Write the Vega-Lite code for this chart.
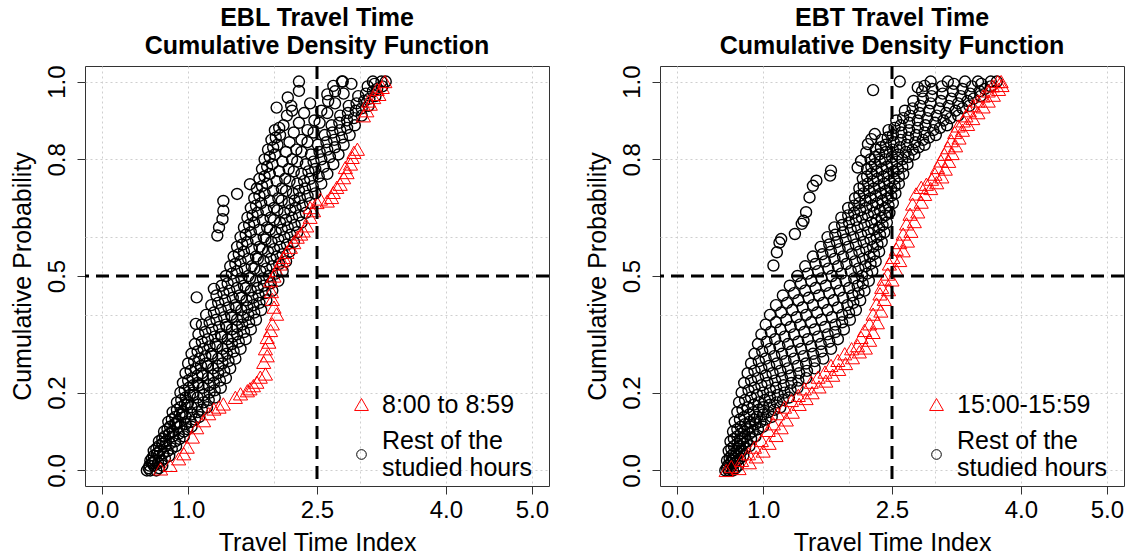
{
"$schema": "https://vega.github.io/schema/vega-lite/v6.json",
"background": "white",
"padding": {"left": 9, "top": 5, "right": 5, "bottom": 5},
"spacing": 111,
"bounds": "flush",
"config": {
  "view": {"stroke": "#333333", "strokeWidth": 1},
  "font": "Liberation Sans",
  "title": {"fontSize": 25, "fontWeight": "bold", "font": "Liberation Sans", "color": "#000000", "lineHeight": 28, "offset": 6, "anchor": "middle"},
  "axis": {"labelFont": "Liberation Sans", "titleFont": "Liberation Sans", "labelFontSize": 24, "titleFontSize": 25, "titleFontWeight": "normal", "labelColor": "#000000", "titleColor": "#000000", "tickColor": "#333333", "tickSize": 8, "domain": false, "gridColor": "#cfcfcf", "gridDash": [2, 3], "gridWidth": 1},
  "legend": {"labelFont": "Liberation Sans", "labelFontSize": 25, "labelColor": "#000000", "labelLimit": 400, "symbolStrokeWidth": 1}
},
"datasets": {
"ebl_rest": [
{"x":0.52,"y":0},{"x":0.56,"y":0.025},{"x":0.6,"y":0.05},{"x":0.66,"y":0.075},{"x":0.72,"y":0.1},{"x":0.77,"y":0.125},{"x":0.82,"y":0.15},{"x":0.87,"y":0.175},{"x":0.91,"y":0.2},{"x":0.94,"y":0.225},{"x":0.97,"y":0.25},{"x":1.0,"y":0.275},{"x":1.04,"y":0.3},{"x":1.08,"y":0.325},{"x":1.12,"y":0.35},{"x":1.16,"y":0.375},{"x":1.21,"y":0.4},{"x":1.27,"y":0.425},{"x":1.33,"y":0.45},{"x":1.39,"y":0.475},{"x":1.44,"y":0.5},{"x":1.49,"y":0.525},{"x":1.53,"y":0.55},{"x":1.57,"y":0.575},{"x":1.61,"y":0.6},{"x":1.65,"y":0.625},{"x":1.69,"y":0.65},{"x":1.73,"y":0.675},{"x":1.77,"y":0.7},{"x":1.8,"y":0.725},{"x":1.83,"y":0.75},{"x":1.86,"y":0.775},{"x":1.89,"y":0.8},{"x":1.93,"y":0.825},{"x":1.97,"y":0.85},{"x":2.01,"y":0.875},
{"x":0.55,"y":0.0125},{"x":0.6,"y":0.0375},{"x":0.66,"y":0.0625},{"x":0.73,"y":0.0875},{"x":0.79,"y":0.1125},{"x":0.85,"y":0.1375},{"x":0.91,"y":0.1625},{"x":0.97,"y":0.1875},{"x":1.01,"y":0.2125},{"x":1.05,"y":0.2375},{"x":1.09,"y":0.2625},{"x":1.13,"y":0.2875},{"x":1.18,"y":0.3125},{"x":1.23,"y":0.3375},{"x":1.28,"y":0.3625},{"x":1.33,"y":0.3875},{"x":1.38,"y":0.4125},{"x":1.43,"y":0.4375},{"x":1.48,"y":0.4625},{"x":1.53,"y":0.4875},{"x":1.57,"y":0.5125},{"x":1.61,"y":0.5375},{"x":1.65,"y":0.5625},{"x":1.69,"y":0.5875},{"x":1.73,"y":0.6125},{"x":1.77,"y":0.6375},{"x":1.81,"y":0.6625},{"x":1.85,"y":0.6875},{"x":1.89,"y":0.7125},{"x":1.92,"y":0.7375},{"x":1.95,"y":0.7625},{"x":1.98,"y":0.7875},{"x":2.01,"y":0.8125},{"x":2.04,"y":0.8375},{"x":2.07,"y":0.8625},{"x":2.11,"y":0.8875},{"x":2.15,"y":0.9125},{"x":2.2,"y":0.9375},
{"x":0.56,"y":0},{"x":0.61,"y":0.025},{"x":0.67,"y":0.05},{"x":0.74,"y":0.075},{"x":0.82,"y":0.1},{"x":0.88,"y":0.125},{"x":0.94,"y":0.15},{"x":1.0,"y":0.175},{"x":1.06,"y":0.2},{"x":1.11,"y":0.225},{"x":1.16,"y":0.25},{"x":1.21,"y":0.275},{"x":1.27,"y":0.3},{"x":1.32,"y":0.325},{"x":1.38,"y":0.35},{"x":1.44,"y":0.375},{"x":1.5,"y":0.4},{"x":1.55,"y":0.425},{"x":1.6,"y":0.45},{"x":1.65,"y":0.475},{"x":1.7,"y":0.5},{"x":1.74,"y":0.525},{"x":1.79,"y":0.55},{"x":1.83,"y":0.575},{"x":1.88,"y":0.6},{"x":1.92,"y":0.625},{"x":1.96,"y":0.65},{"x":2.0,"y":0.675},{"x":2.05,"y":0.7},{"x":2.09,"y":0.725},{"x":2.13,"y":0.75},{"x":2.17,"y":0.775},{"x":2.21,"y":0.8},{"x":2.26,"y":0.825},{"x":2.32,"y":0.85},{"x":2.39,"y":0.875},{"x":2.47,"y":0.9},{"x":2.55,"y":0.925},{"x":2.63,"y":0.95},{"x":2.71,"y":0.975},{"x":2.8,"y":1},
{"x":0.6,"y":0.0125},{"x":0.66,"y":0.0375},{"x":0.73,"y":0.0625},{"x":0.82,"y":0.0875},{"x":0.9,"y":0.1125},{"x":0.97,"y":0.1375},{"x":1.04,"y":0.1625},{"x":1.11,"y":0.1875},{"x":1.17,"y":0.2125},{"x":1.23,"y":0.2375},{"x":1.29,"y":0.2625},{"x":1.35,"y":0.2875},{"x":1.4,"y":0.3125},{"x":1.46,"y":0.3375},{"x":1.51,"y":0.3625},{"x":1.57,"y":0.3875},{"x":1.62,"y":0.4125},{"x":1.68,"y":0.4375},{"x":1.73,"y":0.4625},{"x":1.79,"y":0.4875},{"x":1.84,"y":0.5125},{"x":1.88,"y":0.5375},{"x":1.93,"y":0.5625},{"x":1.97,"y":0.5875},{"x":2.02,"y":0.6125},{"x":2.07,"y":0.6375},{"x":2.12,"y":0.6625},{"x":2.17,"y":0.6875},{"x":2.22,"y":0.7125},{"x":2.27,"y":0.7375},{"x":2.32,"y":0.7625},{"x":2.37,"y":0.7875},{"x":2.43,"y":0.8125},{"x":2.51,"y":0.8375},{"x":2.59,"y":0.8625},{"x":2.67,"y":0.8875},{"x":2.77,"y":0.9125},{"x":2.87,"y":0.9375},{"x":2.98,"y":0.9625},{"x":3.09,"y":0.9875},{"x":3.15,"y":1},
{"x":0.63,"y":0},{"x":0.69,"y":0.025},{"x":0.76,"y":0.05},{"x":0.85,"y":0.075},{"x":0.95,"y":0.1},{"x":1.03,"y":0.125},{"x":1.11,"y":0.15},{"x":1.18,"y":0.175},{"x":1.25,"y":0.2},{"x":1.3,"y":0.225},{"x":1.35,"y":0.25},{"x":1.4,"y":0.275},{"x":1.45,"y":0.3},{"x":1.51,"y":0.325},{"x":1.57,"y":0.35},{"x":1.63,"y":0.375},{"x":1.7,"y":0.4},{"x":1.76,"y":0.425},{"x":1.82,"y":0.45},{"x":1.88,"y":0.475},{"x":1.94,"y":0.5},{"x":1.98,"y":0.525},{"x":2.03,"y":0.55},{"x":2.07,"y":0.575},{"x":2.12,"y":0.6},{"x":2.16,"y":0.625},{"x":2.21,"y":0.65},{"x":2.25,"y":0.675},{"x":2.3,"y":0.7},{"x":2.36,"y":0.725},{"x":2.42,"y":0.75},{"x":2.48,"y":0.775},{"x":2.55,"y":0.8},{"x":2.62,"y":0.825},{"x":2.7,"y":0.85},{"x":2.77,"y":0.875},{"x":2.85,"y":0.9},{"x":2.95,"y":0.925},{"x":3.05,"y":0.95},{"x":3.15,"y":0.975},{"x":3.25,"y":1},
{"x":0.7,"y":0.0125},{"x":0.78,"y":0.0375},{"x":0.86,"y":0.0625},{"x":0.95,"y":0.0875},{"x":1.04,"y":0.1125},{"x":1.13,"y":0.1375},{"x":1.22,"y":0.1625},{"x":1.31,"y":0.1875},{"x":1.38,"y":0.2125},{"x":1.44,"y":0.2375},{"x":1.49,"y":0.2625},{"x":1.55,"y":0.2875},{"x":1.61,"y":0.3125},{"x":1.67,"y":0.3375},{"x":1.73,"y":0.3625},{"x":1.79,"y":0.3875},{"x":1.85,"y":0.4125},{"x":1.91,"y":0.4375},{"x":1.98,"y":0.4625},{"x":2.05,"y":0.4875},{"x":2.1,"y":0.5125},{"x":2.14,"y":0.5375},{"x":2.18,"y":0.5625},{"x":2.23,"y":0.5875},{"x":2.27,"y":0.6125},{"x":2.32,"y":0.6375},{"x":2.37,"y":0.6625},{"x":2.42,"y":0.6875},{"x":2.48,"y":0.7125},{"x":2.55,"y":0.7375},{"x":2.62,"y":0.7625},{"x":2.69,"y":0.7875},{"x":2.75,"y":0.8125},{"x":2.81,"y":0.8375},{"x":2.88,"y":0.8625},{"x":2.94,"y":0.8875},{"x":3.02,"y":0.9125},{"x":3.1,"y":0.9375},{"x":3.18,"y":0.9625},{"x":3.26,"y":0.9875},{"x":3.3,"y":1},
{"x":0.54,"y":0.006},{"x":0.58,"y":0.031},{"x":0.63,"y":0.056},{"x":0.7,"y":0.081},{"x":0.76,"y":0.106},{"x":0.81,"y":0.131},{"x":0.87,"y":0.156},{"x":0.92,"y":0.181},{"x":0.96,"y":0.206},{"x":1.0,"y":0.231},{"x":1.03,"y":0.256},{"x":1.07,"y":0.281},{"x":1.11,"y":0.306},{"x":1.16,"y":0.331},{"x":1.2,"y":0.356},{"x":1.25,"y":0.381},{"x":1.3,"y":0.406},{"x":1.35,"y":0.431},{"x":1.41,"y":0.456},{"x":1.46,"y":0.481},{"x":1.51,"y":0.506},{"x":1.55,"y":0.531},{"x":1.59,"y":0.556},{"x":1.63,"y":0.581},{"x":1.67,"y":0.606},{"x":1.71,"y":0.631},{"x":1.75,"y":0.656},{"x":1.79,"y":0.681},{"x":1.83,"y":0.706},{"x":1.86,"y":0.731},{"x":1.89,"y":0.756},{"x":1.92,"y":0.781},{"x":1.95,"y":0.806},{"x":1.99,"y":0.831},{"x":2.02,"y":0.856},{"x":2.06,"y":0.881},
{"x":0.58,"y":0.019},{"x":0.64,"y":0.044},{"x":0.7,"y":0.069},{"x":0.78,"y":0.094},{"x":0.84,"y":0.119},{"x":0.9,"y":0.144},{"x":0.96,"y":0.169},{"x":1.02,"y":0.194},{"x":1.06,"y":0.219},{"x":1.11,"y":0.244},{"x":1.15,"y":0.269},{"x":1.2,"y":0.294},{"x":1.25,"y":0.319},{"x":1.31,"y":0.344},{"x":1.36,"y":0.369},{"x":1.42,"y":0.394},{"x":1.47,"y":0.419},{"x":1.52,"y":0.444},{"x":1.57,"y":0.469},{"x":1.62,"y":0.494},{"x":1.66,"y":0.519},{"x":1.7,"y":0.544},{"x":1.74,"y":0.569},{"x":1.79,"y":0.594},{"x":1.83,"y":0.619},{"x":1.87,"y":0.644},{"x":1.91,"y":0.669},{"x":1.95,"y":0.694},{"x":1.99,"y":0.719},{"x":2.03,"y":0.744},{"x":2.06,"y":0.769},{"x":2.1,"y":0.794},{"x":2.14,"y":0.819},{"x":2.18,"y":0.844},{"x":2.23,"y":0.869},{"x":2.29,"y":0.894},{"x":2.35,"y":0.919},{"x":2.42,"y":0.944},
{"x":0.59,"y":0.019},{"x":0.64,"y":0.044},{"x":0.7,"y":0.069},{"x":0.78,"y":0.094},{"x":0.86,"y":0.119},{"x":0.93,"y":0.144},{"x":0.99,"y":0.169},{"x":1.06,"y":0.194},{"x":1.12,"y":0.219},{"x":1.17,"y":0.244},{"x":1.23,"y":0.269},{"x":1.28,"y":0.294},{"x":1.34,"y":0.319},{"x":1.39,"y":0.344},{"x":1.45,"y":0.369},{"x":1.51,"y":0.394},{"x":1.56,"y":0.419},{"x":1.62,"y":0.444},{"x":1.67,"y":0.469},{"x":1.72,"y":0.494},{"x":1.77,"y":0.519},{"x":1.81,"y":0.544},{"x":1.86,"y":0.569},{"x":1.9,"y":0.594},{"x":1.95,"y":0.619},{"x":2.0,"y":0.644},{"x":2.04,"y":0.669},{"x":2.09,"y":0.694},{"x":2.14,"y":0.719},{"x":2.18,"y":0.744},{"x":2.23,"y":0.769},{"x":2.27,"y":0.794},{"x":2.32,"y":0.819},{"x":2.39,"y":0.844},{"x":2.46,"y":0.869},{"x":2.53,"y":0.894},{"x":2.62,"y":0.919},{"x":2.71,"y":0.944},{"x":2.81,"y":0.969},{"x":2.9,"y":0.994},
{"x":0.65,"y":0.019},{"x":0.71,"y":0.044},{"x":0.79,"y":0.069},{"x":0.89,"y":0.094},{"x":0.97,"y":0.119},{"x":1.04,"y":0.144},{"x":1.11,"y":0.169},{"x":1.18,"y":0.194},{"x":1.24,"y":0.219},{"x":1.29,"y":0.244},{"x":1.35,"y":0.269},{"x":1.4,"y":0.294},{"x":1.46,"y":0.319},{"x":1.52,"y":0.344},{"x":1.57,"y":0.369},{"x":1.64,"y":0.394},{"x":1.69,"y":0.419},{"x":1.75,"y":0.444},{"x":1.81,"y":0.469},{"x":1.87,"y":0.494},{"x":1.91,"y":0.519},{"x":1.96,"y":0.544},{"x":2.0,"y":0.569},{"x":2.05,"y":0.594},{"x":2.09,"y":0.619},{"x":2.14,"y":0.644},{"x":2.19,"y":0.669},{"x":2.24,"y":0.694},{"x":2.29,"y":0.719},{"x":2.35,"y":0.744},{"x":2.4,"y":0.769},{"x":2.46,"y":0.794},{"x":2.53,"y":0.819},{"x":2.61,"y":0.844},{"x":2.68,"y":0.869},{"x":2.76,"y":0.894},{"x":2.86,"y":0.919},{"x":2.96,"y":0.944},{"x":3.07,"y":0.969},{"x":3.17,"y":0.994},
{"x":0.66,"y":0.006},{"x":0.73,"y":0.031},{"x":0.81,"y":0.056},{"x":0.9,"y":0.081},{"x":0.99,"y":0.106},{"x":1.08,"y":0.131},{"x":1.16,"y":0.156},{"x":1.24,"y":0.181},{"x":1.31,"y":0.206},{"x":1.37,"y":0.231},{"x":1.42,"y":0.256},{"x":1.47,"y":0.281},{"x":1.53,"y":0.306},{"x":1.59,"y":0.331},{"x":1.65,"y":0.356},{"x":1.71,"y":0.381},{"x":1.77,"y":0.406},{"x":1.83,"y":0.431},{"x":1.9,"y":0.456},{"x":1.96,"y":0.481},{"x":2.02,"y":0.506},{"x":2.06,"y":0.531},{"x":2.1,"y":0.556},{"x":2.15,"y":0.581},{"x":2.19,"y":0.606},{"x":2.24,"y":0.631},{"x":2.29,"y":0.656},{"x":2.33,"y":0.681},{"x":2.39,"y":0.706},{"x":2.45,"y":0.731},{"x":2.52,"y":0.756},{"x":2.58,"y":0.781},{"x":2.65,"y":0.806},{"x":2.71,"y":0.831},{"x":2.79,"y":0.856},{"x":2.85,"y":0.881},{"x":2.93,"y":0.906},{"x":3.02,"y":0.931},{"x":3.11,"y":0.956},{"x":3.2,"y":0.981},
{"x":1.09,"y":0.377},{"x":1.1,"y":0.445},{"x":1.3,"y":0.467},{"x":1.34,"y":0.604},{"x":1.36,"y":0.625},{"x":1.4,"y":0.646},{"x":1.41,"y":0.668},{"x":1.41,"y":0.693},{"x":1.57,"y":0.711},{"x":1.72,"y":0.736},{"x":2.03,"y":0.933},{"x":2.21,"y":0.925},{"x":2.16,"y":0.959},{"x":2.29,"y":0.976},{"x":2.29,"y":1},{"x":2.62,"y":0.967},{"x":2.69,"y":0.989},{"x":2.79,"y":1}
],
"ebl_peak": [
{"x":0.68,"y":0.004},{"x":0.79,"y":0.013},{"x":0.89,"y":0.03},{"x":0.95,"y":0.043},{"x":0.99,"y":0.06},{"x":1.05,"y":0.086},{"x":1.1,"y":0.11},{"x":1.18,"y":0.128},{"x":1.24,"y":0.146},{"x":1.3,"y":0.158},{"x":1.36,"y":0.163},{"x":1.41,"y":0.171},{"x":1.55,"y":0.188},{"x":1.61,"y":0.197},{"x":1.69,"y":0.205},{"x":1.72,"y":0.21},{"x":1.76,"y":0.218},{"x":1.8,"y":0.227},{"x":1.84,"y":0.24},{"x":1.9,"y":0.248},{"x":1.88,"y":0.278},{"x":1.92,"y":0.295},{"x":1.9,"y":0.313},{"x":1.94,"y":0.33},{"x":1.92,"y":0.342},{"x":1.96,"y":0.36},{"x":1.98,"y":0.377},{"x":2.03,"y":0.402},{"x":2.0,"y":0.42},{"x":1.98,"y":0.44},{"x":1.97,"y":0.46},{"x":1.96,"y":0.488},{"x":2.0,"y":0.5},{"x":2.03,"y":0.514},{"x":2.07,"y":0.531},{"x":2.09,"y":0.539},{"x":2.11,"y":0.548},{"x":2.15,"y":0.561},{"x":2.19,"y":0.574},{"x":2.23,"y":0.586},{"x":2.27,"y":0.6},{"x":2.31,"y":0.608},{"x":2.34,"y":0.616},{"x":2.38,"y":0.629},{"x":2.42,"y":0.651},{"x":2.46,"y":0.668},{"x":2.42,"y":0.676},{"x":2.5,"y":0.689},{"x":2.54,"y":0.698},{"x":2.62,"y":0.693},{"x":2.67,"y":0.702},{"x":2.69,"y":0.715},{"x":2.73,"y":0.728},{"x":2.77,"y":0.736},{"x":2.81,"y":0.753},{"x":2.85,"y":0.766},{"x":2.83,"y":0.779},{"x":2.89,"y":0.788},{"x":2.91,"y":0.805},{"x":2.93,"y":0.818},{"x":2.97,"y":0.826},{"x":3.04,"y":0.912},{"x":3.08,"y":0.925},{"x":3.12,"y":0.942},{"x":3.1,"y":0.95},{"x":3.16,"y":0.959},{"x":3.22,"y":0.967},{"x":3.2,"y":0.98},{"x":3.26,"y":0.985},{"x":3.29,"y":1}
],
"ebt_rest": [
{"x":0.56,"y":0},{"x":0.58,"y":0.025},{"x":0.6,"y":0.05},{"x":0.62,"y":0.075},{"x":0.65,"y":0.1},{"x":0.67,"y":0.125},{"x":0.7,"y":0.15},{"x":0.72,"y":0.175},{"x":0.75,"y":0.2},{"x":0.78,"y":0.225},{"x":0.82,"y":0.25},{"x":0.86,"y":0.275},{"x":0.9,"y":0.3},{"x":0.94,"y":0.325},{"x":0.98,"y":0.35},{"x":1.03,"y":0.375},{"x":1.08,"y":0.4},{"x":1.15,"y":0.425},{"x":1.23,"y":0.45},{"x":1.31,"y":0.475},{"x":1.4,"y":0.5},{"x":1.49,"y":0.525},{"x":1.58,"y":0.55},{"x":1.67,"y":0.575},{"x":1.75,"y":0.6},{"x":1.83,"y":0.625},{"x":1.91,"y":0.65},{"x":1.99,"y":0.675},{"x":2.07,"y":0.7},{"x":2.12,"y":0.725},{"x":2.16,"y":0.75},{"x":2.21,"y":0.775},{"x":2.25,"y":0.8},{"x":2.31,"y":0.825},{"x":2.38,"y":0.85},{"x":2.46,"y":0.875},{"x":2.55,"y":0.9},{"x":2.65,"y":0.925},{"x":2.75,"y":0.95},{"x":2.85,"y":0.975},{"x":2.95,"y":1},
{"x":0.59,"y":0.0125},{"x":0.63,"y":0.0375},{"x":0.66,"y":0.0625},{"x":0.7,"y":0.0875},{"x":0.74,"y":0.1125},{"x":0.78,"y":0.1375},{"x":0.82,"y":0.1625},{"x":0.86,"y":0.1875},{"x":0.9,"y":0.2125},{"x":0.94,"y":0.2375},{"x":0.98,"y":0.2625},{"x":1.03,"y":0.2875},{"x":1.08,"y":0.3125},{"x":1.14,"y":0.3375},{"x":1.2,"y":0.3625},{"x":1.27,"y":0.3875},{"x":1.34,"y":0.4125},{"x":1.41,"y":0.4375},{"x":1.49,"y":0.4625},{"x":1.56,"y":0.4875},{"x":1.64,"y":0.5125},{"x":1.72,"y":0.5375},{"x":1.79,"y":0.5625},{"x":1.86,"y":0.5875},{"x":1.93,"y":0.6125},{"x":2.0,"y":0.6375},{"x":2.06,"y":0.6625},{"x":2.12,"y":0.6875},{"x":2.17,"y":0.7125},{"x":2.22,"y":0.7375},{"x":2.26,"y":0.7625},{"x":2.3,"y":0.7875},{"x":2.35,"y":0.8125},{"x":2.43,"y":0.8375},{"x":2.51,"y":0.8625},{"x":2.6,"y":0.8875},{"x":2.71,"y":0.9125},{"x":2.83,"y":0.9375},{"x":2.96,"y":0.9625},{"x":3.08,"y":0.9875},{"x":3.15,"y":1},
{"x":0.6,"y":0},{"x":0.64,"y":0.025},{"x":0.69,"y":0.05},{"x":0.73,"y":0.075},{"x":0.78,"y":0.1},{"x":0.84,"y":0.125},{"x":0.89,"y":0.15},{"x":0.95,"y":0.175},{"x":1.0,"y":0.2},{"x":1.05,"y":0.225},{"x":1.11,"y":0.25},{"x":1.16,"y":0.275},{"x":1.22,"y":0.3},{"x":1.29,"y":0.325},{"x":1.36,"y":0.35},{"x":1.43,"y":0.375},{"x":1.5,"y":0.4},{"x":1.58,"y":0.425},{"x":1.65,"y":0.45},{"x":1.73,"y":0.475},{"x":1.8,"y":0.5},{"x":1.87,"y":0.525},{"x":1.93,"y":0.55},{"x":1.99,"y":0.575},{"x":2.05,"y":0.6},{"x":2.1,"y":0.625},{"x":2.15,"y":0.65},{"x":2.2,"y":0.675},{"x":2.25,"y":0.7},{"x":2.29,"y":0.725},{"x":2.33,"y":0.75},{"x":2.38,"y":0.775},{"x":2.42,"y":0.8},{"x":2.51,"y":0.825},{"x":2.6,"y":0.85},{"x":2.7,"y":0.875},{"x":2.8,"y":0.9},{"x":2.93,"y":0.925},{"x":3.07,"y":0.95},{"x":3.21,"y":0.975},{"x":3.35,"y":1},
{"x":0.64,"y":0.0125},{"x":0.68,"y":0.0375},{"x":0.73,"y":0.0625},{"x":0.79,"y":0.0875},{"x":0.85,"y":0.1125},{"x":0.93,"y":0.1375},{"x":1.0,"y":0.1625},{"x":1.08,"y":0.1875},{"x":1.15,"y":0.2125},{"x":1.22,"y":0.2375},{"x":1.29,"y":0.2625},{"x":1.36,"y":0.2875},{"x":1.44,"y":0.3125},{"x":1.52,"y":0.3375},{"x":1.6,"y":0.3625},{"x":1.68,"y":0.3875},{"x":1.75,"y":0.4125},{"x":1.82,"y":0.4375},{"x":1.89,"y":0.4625},{"x":1.96,"y":0.4875},{"x":2.02,"y":0.5125},{"x":2.07,"y":0.5375},{"x":2.12,"y":0.5625},{"x":2.17,"y":0.5875},{"x":2.22,"y":0.6125},{"x":2.26,"y":0.6375},{"x":2.29,"y":0.6625},{"x":2.33,"y":0.6875},{"x":2.37,"y":0.7125},{"x":2.41,"y":0.7375},{"x":2.46,"y":0.7625},{"x":2.5,"y":0.7875},{"x":2.57,"y":0.8125},{"x":2.67,"y":0.8375},{"x":2.78,"y":0.8625},{"x":2.89,"y":0.8875},{"x":3.02,"y":0.9125},{"x":3.16,"y":0.9375},{"x":3.3,"y":0.9625},{"x":3.43,"y":0.9875},{"x":3.5,"y":1},
{"x":0.65,"y":0},{"x":0.7,"y":0.025},{"x":0.75,"y":0.05},{"x":0.81,"y":0.075},{"x":0.88,"y":0.1},{"x":0.97,"y":0.125},{"x":1.06,"y":0.15},{"x":1.16,"y":0.175},{"x":1.25,"y":0.2},{"x":1.33,"y":0.225},{"x":1.42,"y":0.25},{"x":1.5,"y":0.275},{"x":1.58,"y":0.3},{"x":1.67,"y":0.325},{"x":1.75,"y":0.35},{"x":1.84,"y":0.375},{"x":1.92,"y":0.4},{"x":1.98,"y":0.425},{"x":2.04,"y":0.45},{"x":2.1,"y":0.475},{"x":2.15,"y":0.5},{"x":2.19,"y":0.525},{"x":2.24,"y":0.55},{"x":2.28,"y":0.575},{"x":2.32,"y":0.6},{"x":2.35,"y":0.625},{"x":2.38,"y":0.65},{"x":2.42,"y":0.675},{"x":2.45,"y":0.7},{"x":2.49,"y":0.725},{"x":2.53,"y":0.75},{"x":2.57,"y":0.775},{"x":2.62,"y":0.8},{"x":2.74,"y":0.825},{"x":2.86,"y":0.85},{"x":2.98,"y":0.875},{"x":3.1,"y":0.9},{"x":3.24,"y":0.925},{"x":3.38,"y":0.95},{"x":3.52,"y":0.975},{"x":3.65,"y":1},
{"x":0.71,"y":0.0125},{"x":0.77,"y":0.0375},{"x":0.84,"y":0.0625},{"x":0.91,"y":0.0875},{"x":1.0,"y":0.1125},{"x":1.1,"y":0.1375},{"x":1.2,"y":0.1625},{"x":1.3,"y":0.1875},{"x":1.4,"y":0.2125},{"x":1.5,"y":0.2375},{"x":1.6,"y":0.2625},{"x":1.7,"y":0.2875},{"x":1.79,"y":0.3125},{"x":1.87,"y":0.3375},{"x":1.94,"y":0.3625},{"x":2.01,"y":0.3875},{"x":2.08,"y":0.4125},{"x":2.13,"y":0.4375},{"x":2.18,"y":0.4625},{"x":2.23,"y":0.4875},{"x":2.27,"y":0.5125},{"x":2.31,"y":0.5375},{"x":2.35,"y":0.5625},{"x":2.38,"y":0.5875},{"x":2.41,"y":0.6125},{"x":2.44,"y":0.6375},{"x":2.47,"y":0.6625},{"x":2.51,"y":0.6875},{"x":2.54,"y":0.7125},{"x":2.58,"y":0.7375},{"x":2.63,"y":0.7625},{"x":2.68,"y":0.7875},{"x":2.76,"y":0.8125},{"x":2.88,"y":0.8375},{"x":3.01,"y":0.8625},{"x":3.14,"y":0.8875},{"x":3.27,"y":0.9125},{"x":3.4,"y":0.9375},{"x":3.53,"y":0.9625},{"x":3.65,"y":0.9875},{"x":3.72,"y":1},
{"x":0.58,"y":0.006},{"x":0.61,"y":0.031},{"x":0.63,"y":0.056},{"x":0.66,"y":0.081},{"x":0.7,"y":0.106},{"x":0.73,"y":0.131},{"x":0.76,"y":0.156},{"x":0.79,"y":0.181},{"x":0.83,"y":0.206},{"x":0.86,"y":0.231},{"x":0.9,"y":0.256},{"x":0.95,"y":0.281},{"x":0.99,"y":0.306},{"x":1.04,"y":0.331},{"x":1.09,"y":0.356},{"x":1.15,"y":0.381},{"x":1.21,"y":0.406},{"x":1.28,"y":0.431},{"x":1.36,"y":0.456},{"x":1.44,"y":0.481},{"x":1.52,"y":0.506},{"x":1.61,"y":0.531},{"x":1.69,"y":0.556},{"x":1.77,"y":0.581},{"x":1.84,"y":0.606},{"x":1.92,"y":0.631},{"x":1.99,"y":0.656},{"x":2.06,"y":0.681},{"x":2.12,"y":0.706},{"x":2.17,"y":0.731},{"x":2.21,"y":0.756},{"x":2.26,"y":0.781},{"x":2.3,"y":0.806},{"x":2.37,"y":0.831},{"x":2.45,"y":0.856},{"x":2.53,"y":0.881},{"x":2.63,"y":0.906},{"x":2.74,"y":0.931},{"x":2.86,"y":0.956},{"x":2.97,"y":0.981},
{"x":0.62,"y":0.019},{"x":0.66,"y":0.044},{"x":0.7,"y":0.069},{"x":0.74,"y":0.094},{"x":0.79,"y":0.119},{"x":0.84,"y":0.144},{"x":0.89,"y":0.169},{"x":0.93,"y":0.194},{"x":0.98,"y":0.219},{"x":1.03,"y":0.244},{"x":1.07,"y":0.269},{"x":1.13,"y":0.294},{"x":1.19,"y":0.319},{"x":1.25,"y":0.344},{"x":1.32,"y":0.369},{"x":1.39,"y":0.394},{"x":1.46,"y":0.419},{"x":1.53,"y":0.444},{"x":1.61,"y":0.469},{"x":1.68,"y":0.494},{"x":1.76,"y":0.519},{"x":1.83,"y":0.544},{"x":1.89,"y":0.569},{"x":1.96,"y":0.594},{"x":2.02,"y":0.619},{"x":2.08,"y":0.644},{"x":2.13,"y":0.669},{"x":2.19,"y":0.694},{"x":2.23,"y":0.719},{"x":2.28,"y":0.744},{"x":2.32,"y":0.769},{"x":2.36,"y":0.794},{"x":2.43,"y":0.819},{"x":2.52,"y":0.844},{"x":2.61,"y":0.869},{"x":2.7,"y":0.894},{"x":2.82,"y":0.919},{"x":2.95,"y":0.944},{"x":3.09,"y":0.969},{"x":3.22,"y":0.994},
{"x":0.62,"y":0.006},{"x":0.66,"y":0.031},{"x":0.71,"y":0.056},{"x":0.76,"y":0.081},{"x":0.82,"y":0.106},{"x":0.89,"y":0.131},{"x":0.95,"y":0.156},{"x":1.02,"y":0.181},{"x":1.08,"y":0.206},{"x":1.14,"y":0.231},{"x":1.2,"y":0.256},{"x":1.26,"y":0.281},{"x":1.33,"y":0.306},{"x":1.41,"y":0.331},{"x":1.48,"y":0.356},{"x":1.56,"y":0.381},{"x":1.63,"y":0.406},{"x":1.7,"y":0.431},{"x":1.77,"y":0.456},{"x":1.85,"y":0.481},{"x":1.91,"y":0.506},{"x":1.97,"y":0.531},{"x":2.03,"y":0.556},{"x":2.08,"y":0.581},{"x":2.14,"y":0.606},{"x":2.18,"y":0.631},{"x":2.22,"y":0.656},{"x":2.27,"y":0.681},{"x":2.31,"y":0.706},{"x":2.35,"y":0.731},{"x":2.4,"y":0.756},{"x":2.44,"y":0.781},{"x":2.5,"y":0.806},{"x":2.59,"y":0.831},{"x":2.69,"y":0.856},{"x":2.8,"y":0.881},{"x":2.91,"y":0.906},{"x":3.05,"y":0.931},{"x":3.19,"y":0.956},{"x":3.32,"y":0.981},
{"x":0.67,"y":0.019},{"x":0.72,"y":0.044},{"x":0.77,"y":0.069},{"x":0.84,"y":0.094},{"x":0.91,"y":0.119},{"x":1.0,"y":0.144},{"x":1.08,"y":0.169},{"x":1.17,"y":0.194},{"x":1.24,"y":0.219},{"x":1.32,"y":0.244},{"x":1.4,"y":0.269},{"x":1.47,"y":0.294},{"x":1.56,"y":0.319},{"x":1.64,"y":0.344},{"x":1.72,"y":0.369},{"x":1.8,"y":0.394},{"x":1.87,"y":0.419},{"x":1.93,"y":0.444},{"x":2.0,"y":0.469},{"x":2.06,"y":0.494},{"x":2.11,"y":0.519},{"x":2.16,"y":0.544},{"x":2.2,"y":0.569},{"x":2.25,"y":0.594},{"x":2.29,"y":0.619},{"x":2.32,"y":0.644},{"x":2.36,"y":0.669},{"x":2.39,"y":0.694},{"x":2.43,"y":0.719},{"x":2.47,"y":0.744},{"x":2.52,"y":0.769},{"x":2.56,"y":0.794},{"x":2.66,"y":0.819},{"x":2.77,"y":0.844},{"x":2.88,"y":0.869},{"x":3.0,"y":0.894},{"x":3.13,"y":0.919},{"x":3.27,"y":0.944},{"x":3.41,"y":0.969},{"x":3.54,"y":0.994},
{"x":0.68,"y":0.006},{"x":0.73,"y":0.031},{"x":0.79,"y":0.056},{"x":0.86,"y":0.081},{"x":0.94,"y":0.106},{"x":1.03,"y":0.131},{"x":1.13,"y":0.156},{"x":1.23,"y":0.181},{"x":1.32,"y":0.206},{"x":1.41,"y":0.231},{"x":1.51,"y":0.256},{"x":1.6,"y":0.281},{"x":1.68,"y":0.306},{"x":1.77,"y":0.331},{"x":1.84,"y":0.356},{"x":1.92,"y":0.381},{"x":2.0,"y":0.406},{"x":2.05,"y":0.431},{"x":2.11,"y":0.456},{"x":2.16,"y":0.481},{"x":2.21,"y":0.506},{"x":2.25,"y":0.531},{"x":2.29,"y":0.556},{"x":2.33,"y":0.581},{"x":2.36,"y":0.606},{"x":2.39,"y":0.631},{"x":2.42,"y":0.656},{"x":2.46,"y":0.681},{"x":2.49,"y":0.706},{"x":2.53,"y":0.731},{"x":2.58,"y":0.756},{"x":2.62,"y":0.781},{"x":2.69,"y":0.806},{"x":2.81,"y":0.831},{"x":2.93,"y":0.856},{"x":3.06,"y":0.881},{"x":3.18,"y":0.906},{"x":3.32,"y":0.931},{"x":3.45,"y":0.956},{"x":3.58,"y":0.981},
{"x":1.12,"y":0.527},{"x":1.16,"y":0.561},{"x":1.19,"y":0.586},{"x":1.21,"y":0.595},{"x":1.37,"y":0.608},{"x":1.45,"y":0.634},{"x":1.47,"y":0.642},{"x":1.5,"y":0.664},{"x":1.54,"y":0.702},{"x":1.58,"y":0.732},{"x":1.62,"y":0.745},{"x":1.78,"y":0.758},{"x":1.79,"y":0.771},{"x":2.1,"y":0.779},{"x":2.14,"y":0.796},{"x":2.2,"y":0.818},{"x":2.22,"y":0.839},{"x":2.26,"y":0.852},{"x":2.3,"y":0.865},{"x":2.28,"y":0.978},{"x":2.59,"y":1},{"x":2.8,"y":0.985},{"x":2.88,"y":0.989}
],
"ebt_peak": [
{"x":0.57,"y":0},{"x":0.63,"y":0.01},{"x":0.75,"y":0.026},{"x":0.83,"y":0.043},{"x":0.9,"y":0.06},{"x":0.98,"y":0.077},{"x":1.06,"y":0.103},{"x":1.12,"y":0.12},{"x":1.17,"y":0.146},{"x":1.25,"y":0.163},{"x":1.33,"y":0.18},{"x":1.41,"y":0.193},{"x":1.48,"y":0.21},{"x":1.56,"y":0.227},{"x":1.64,"y":0.24},{"x":1.72,"y":0.253},{"x":1.79,"y":0.27},{"x":1.87,"y":0.283},{"x":1.95,"y":0.3},{"x":2.03,"y":0.313},{"x":2.1,"y":0.321},{"x":2.14,"y":0.342},{"x":2.18,"y":0.36},{"x":2.24,"y":0.377},{"x":2.28,"y":0.402},{"x":2.32,"y":0.428},{"x":2.36,"y":0.454},{"x":2.38,"y":0.471},{"x":2.41,"y":0.492},{"x":2.45,"y":0.505},{"x":2.47,"y":0.531},{"x":2.51,"y":0.548},{"x":2.55,"y":0.569},{"x":2.59,"y":0.586},{"x":2.63,"y":0.608},{"x":2.67,"y":0.634},{"x":2.71,"y":0.659},{"x":2.74,"y":0.685},{"x":2.78,"y":0.711},{"x":2.84,"y":0.728},{"x":2.9,"y":0.736},{"x":2.96,"y":0.749},{"x":3.0,"y":0.762},{"x":3.03,"y":0.779},{"x":3.07,"y":0.796},{"x":3.11,"y":0.813},{"x":3.15,"y":0.83},{"x":3.19,"y":0.848},{"x":3.23,"y":0.869},{"x":3.27,"y":0.886},{"x":3.33,"y":0.899},{"x":3.36,"y":0.912},{"x":3.4,"y":0.925},{"x":3.44,"y":0.938},{"x":3.5,"y":0.95},{"x":3.56,"y":0.963},{"x":3.62,"y":0.976},{"x":3.67,"y":0.989},{"x":3.73,"y":1},{"x":3.77,"y":1},
{"x":0.72,"y":0.005},{"x":0.84,"y":0.02},{"x":0.92,"y":0.035},{"x":1.0,"y":0.05},{"x":1.07,"y":0.07},{"x":1.15,"y":0.09},{"x":1.21,"y":0.11},{"x":1.27,"y":0.13},{"x":1.34,"y":0.15},{"x":1.42,"y":0.17},{"x":1.5,"y":0.185},{"x":1.57,"y":0.2},{"x":1.65,"y":0.215},{"x":1.73,"y":0.23},{"x":1.81,"y":0.245},{"x":1.88,"y":0.26},{"x":1.96,"y":0.275},{"x":2.04,"y":0.29},{"x":2.12,"y":0.305},{"x":2.19,"y":0.315},{"x":2.24,"y":0.335},{"x":2.28,"y":0.355},{"x":2.33,"y":0.38},{"x":2.37,"y":0.41},{"x":2.41,"y":0.44},{"x":2.46,"y":0.465},{"x":2.5,"y":0.49},{"x":2.55,"y":0.515},{"x":2.59,"y":0.54},{"x":2.63,"y":0.565},{"x":2.68,"y":0.59},{"x":2.72,"y":0.615},{"x":2.76,"y":0.64},{"x":2.8,"y":0.665},{"x":2.84,"y":0.69},{"x":2.88,"y":0.71},{"x":2.95,"y":0.725},{"x":3.02,"y":0.74},{"x":3.08,"y":0.755},{"x":3.12,"y":0.775},{"x":3.16,"y":0.795},{"x":3.2,"y":0.815},{"x":3.24,"y":0.835},{"x":3.28,"y":0.855},{"x":3.32,"y":0.875},{"x":3.38,"y":0.89},{"x":3.44,"y":0.905},{"x":3.5,"y":0.92},{"x":3.56,"y":0.935},{"x":3.62,"y":0.95},{"x":3.68,"y":0.965},{"x":3.74,"y":0.98},{"x":3.78,"y":0.99}
]
},
"hconcat": [
{
"width": 464, "height": 420,
"title": {"text": ["EBL Travel Time", "Cumulative Density Function"]},
"resolve": {"axis": {"x": "independent", "y": "independent"}},
"layer": [
{"data": {"name": "ebl_rest"},
 "mark": {"type": "point", "shape": "circle", "color": "#000000", "filled": false, "size": 121, "strokeWidth": 1.4, "opacity": 1},
 "encoding": {
  "x": {"field": "x", "type": "quantitative", "scale": {"domain": [-0.2, 5.2], "nice": false, "zero": false}, "axis": {"orient": "bottom", "values": [0, 1, 2, 3, 4, 5], "grid": true, "labels": false, "ticks": false, "title": null}},
  "y": {"field": "y", "type": "quantitative", "scale": {"domain": [-0.04, 1.04], "nice": false, "zero": false}, "axis": {"orient": "left", "values": [0, 0.2, 0.4, 0.6, 0.8, 1], "grid": true, "labels": false, "ticks": false, "title": null}}
 }},
{"data": {"name": "ebl_peak"},
 "mark": {"type": "point", "shape": "triangle-up", "color": "#ff0000", "filled": false, "size": 200, "strokeWidth": 1, "opacity": 1},
 "encoding": {
  "x": {"field": "x", "type": "quantitative", "axis": {"orient": "bottom", "values": [0, 1, 2.5, 4, 5], "format": ".1f", "grid": false, "title": "Travel Time Index", "labelPadding": 4, "titlePadding": 8}},
  "y": {"field": "y", "type": "quantitative", "axis": {"orient": "left", "values": [0, 0.2, 0.5, 0.8, 1], "format": ".1f", "grid": false, "labelAngle": -90, "title": "Cumulative Probability", "labelPadding": 8, "titlePadding": 10}}
 }},
{"data": {"values": []},
 "mark": {"type": "point", "filled": false, "opacity": 1},
 "encoding": {
  "color": {"datum": "8:00 to 8:59", "type": "nominal", "scale": {"domain": ["8:00 to 8:59", "Rest of the studied hours"], "range": ["#ff0000", "#000000"]}, "legend": {"title": null, "orient": "none", "legendX": 264, "legendY": 326, "labelOffset": 8, "symbolSize": 190, "rowPadding": 10, "labelExpr": "datum.label == 'Rest of the studied hours' ? ['Rest of the', 'studied hours'] : datum.label"}},
  "shape": {"datum": "8:00 to 8:59", "type": "nominal", "scale": {"domain": ["8:00 to 8:59", "Rest of the studied hours"], "range": ["triangle-up", "M -0.7 2.03 A 0.7 0.7 0 1 0 0.7 2.03 A 0.7 0.7 0 1 0 -0.7 2.03 Z"]}, "legend": {"title": null, "orient": "none", "legendX": 264, "legendY": 326, "labelOffset": 8, "symbolSize": 190, "rowPadding": 10, "labelExpr": "datum.label == 'Rest of the studied hours' ? ['Rest of the', 'studied hours'] : datum.label"}}
 }},
{"data": {"values": [{}]},
 "mark": {"type": "rule", "color": "#000000", "strokeWidth": 3, "strokeDash": [13, 7]},
 "encoding": {"x": {"datum": 2.5, "type": "quantitative", "axis": null}}},
{"data": {"values": [{}]},
 "mark": {"type": "rule", "color": "#000000", "strokeWidth": 3, "strokeDash": [13, 7]},
 "encoding": {"y": {"datum": 0.5, "type": "quantitative", "axis": null}}}
]
},
{
"width": 464, "height": 420,
"title": {"text": ["EBT Travel Time", "Cumulative Density Function"]},
"resolve": {"axis": {"x": "independent", "y": "independent"}},
"layer": [
{"data": {"name": "ebt_rest"},
 "mark": {"type": "point", "shape": "circle", "color": "#000000", "filled": false, "size": 121, "strokeWidth": 1.4, "opacity": 1},
 "encoding": {
  "x": {"field": "x", "type": "quantitative", "scale": {"domain": [-0.2, 5.2], "nice": false, "zero": false}, "axis": {"orient": "bottom", "values": [0, 1, 2, 3, 4, 5], "grid": true, "labels": false, "ticks": false, "title": null}},
  "y": {"field": "y", "type": "quantitative", "scale": {"domain": [-0.04, 1.04], "nice": false, "zero": false}, "axis": {"orient": "left", "values": [0, 0.2, 0.4, 0.6, 0.8, 1], "grid": true, "labels": false, "ticks": false, "title": null}}
 }},
{"data": {"name": "ebt_peak"},
 "mark": {"type": "point", "shape": "triangle-up", "color": "#ff0000", "filled": false, "size": 200, "strokeWidth": 1, "opacity": 1},
 "encoding": {
  "x": {"field": "x", "type": "quantitative", "axis": {"orient": "bottom", "values": [0, 1, 2.5, 4, 5], "format": ".1f", "grid": false, "title": "Travel Time Index", "labelPadding": 4, "titlePadding": 8}},
  "y": {"field": "y", "type": "quantitative", "axis": {"orient": "left", "values": [0, 0.2, 0.5, 0.8, 1], "format": ".1f", "grid": false, "labelAngle": -90, "title": "Cumulative Probability", "labelPadding": 8, "titlePadding": 10}}
 }},
{"data": {"values": []},
 "mark": {"type": "point", "filled": false, "opacity": 1},
 "encoding": {
  "color": {"datum": "15:00-15:59", "type": "nominal", "scale": {"domain": ["15:00-15:59", "Rest of the studied hours"], "range": ["#ff0000", "#000000"]}, "legend": {"title": null, "orient": "none", "legendX": 264, "legendY": 326, "labelOffset": 8, "symbolSize": 190, "rowPadding": 10, "labelExpr": "datum.label == 'Rest of the studied hours' ? ['Rest of the', 'studied hours'] : datum.label"}},
  "shape": {"datum": "15:00-15:59", "type": "nominal", "scale": {"domain": ["15:00-15:59", "Rest of the studied hours"], "range": ["triangle-up", "M -0.7 2.03 A 0.7 0.7 0 1 0 0.7 2.03 A 0.7 0.7 0 1 0 -0.7 2.03 Z"]}, "legend": {"title": null, "orient": "none", "legendX": 264, "legendY": 326, "labelOffset": 8, "symbolSize": 190, "rowPadding": 10, "labelExpr": "datum.label == 'Rest of the studied hours' ? ['Rest of the', 'studied hours'] : datum.label"}}
 }},
{"data": {"values": [{}]},
 "mark": {"type": "rule", "color": "#000000", "strokeWidth": 3, "strokeDash": [13, 7]},
 "encoding": {"x": {"datum": 2.5, "type": "quantitative", "axis": null}}},
{"data": {"values": [{}]},
 "mark": {"type": "rule", "color": "#000000", "strokeWidth": 3, "strokeDash": [13, 7]},
 "encoding": {"y": {"datum": 0.5, "type": "quantitative", "axis": null}}}
]
}
],
"resolve": {"scale": {"color": "independent", "shape": "independent"}, "legend": {"color": "independent", "shape": "independent"}}
}
